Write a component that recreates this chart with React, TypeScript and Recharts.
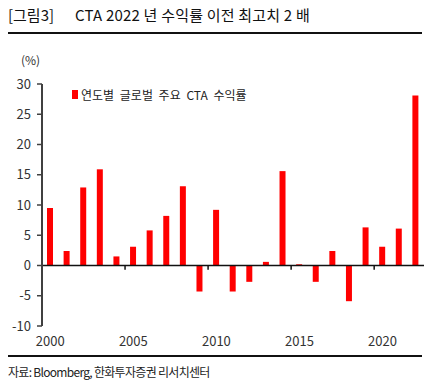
import { BarChart, Bar, XAxis, YAxis, ReferenceLine, Legend } from 'recharts'

const years = [
  2000, 2001, 2002, 2003, 2004, 2005, 2006, 2007, 2008, 2009, 2010, 2011,
  2012, 2013, 2014, 2015, 2016, 2017, 2018, 2019, 2020, 2021, 2022,
]
const returns = [
  9.5, 2.4, 12.9, 15.9, 1.5, 3.1, 5.8, 8.2, 13.1, -4.3, 9.2, -4.3,
  -2.7, 0.6, 15.6, 0.2, -2.7, 2.4, -5.9, 6.3, 3.1, 6.1, 28.1,
]
const yTicks = [-10, -5, 0, 5, 10, 15, 20, 25, 30]
const boundaryTicks = [2005, 2010, 2015, 2020]

const seriesName = '연도별 글로벌 주요 CTA 수익률'
const font = '"Noto Sans CJK KR", "Noto Sans", sans-serif'

const chartData = years.map((y, i) => ({ year: y, value: returns[i] }))

function XTick(props: any) {
  const { x, y, payload } = props
  return (
    <text x={x} y={y + 12} textAnchor="middle" fontSize={13} fill="#333" fontFamily={font}>
      {payload.value}
    </text>
  )
}

function LegendBox() {
  return (
    <div style={{ display: 'flex', alignItems: 'center', fontSize: 12, color: '#222', fontFamily: font }}>
      <span style={{ width: 6, height: 9, background: '#ff0000', marginRight: 3, display: 'inline-block' }} />
      <span style={{ wordSpacing: 3 }}>{seriesName}</span>
    </div>
  )
}

export default function App() {
  return (
    <div style={{ position: 'absolute', left: 0, top: 0, width: 444, height: 388, background: '#fff', fontFamily: font }}>
      <div style={{ position: 'absolute', left: 8, top: 4, fontSize: 15, color: '#111', whiteSpace: 'nowrap' }}>
        <span>[그림3]</span>
        <span style={{ marginLeft: 21, letterSpacing: 0.2 }}>CTA 2022 년 수익률 이전 최고치 2 배</span>
      </div>
      <div style={{ position: 'absolute', left: 8, top: 32, width: 414, height: 2, background: '#111' }} />
      <div style={{ position: 'absolute', left: 21, top: 51, fontSize: 12, color: '#333' }}>(%)</div>

      <BarChart
        width={444}
        height={388}
        data={chartData}
        margin={{ top: 84, right: 20, bottom: 32, left: 0 }}
        style={{ position: 'absolute', left: 0, top: 0 }}
      >
        <YAxis
          domain={[-10, 30]}
          ticks={yTicks}
          interval={0}
          width={42}
          tickSize={5}
          tickMargin={6}
          axisLine={{ stroke: '#404040', strokeWidth: 2 }}
          tickLine={{ stroke: '#404040', strokeWidth: 1.5 }}
          tick={{ fontSize: 13, fill: '#333', fontFamily: font }}
        />
        <XAxis
          dataKey="year"
          type="category"
          height={30}
          interval={4}
          axisLine={false}
          tickLine={false}
          tick={<XTick />}
        />
        <Legend
          layout="horizontal"
          verticalAlign="middle"
          align="center"
          content={<LegendBox />}
          wrapperStyle={{ position: 'absolute', left: 72, top: 86, width: 'auto' }}
        />
        <ReferenceLine y={0} stroke="#111" strokeWidth={1.5} />
        {boundaryTicks.map((t) => (
          <ReferenceLine
            key={t}
            segment={[{ x: t, y: 0 }, { x: t, y: -0.7 }]}
            position="start"
            stroke="#111"
            strokeWidth={1.5}
          />
        ))}
        <Bar dataKey="value" name={seriesName} fill="#ff0000" barSize={6} isAnimationActive={false} />
      </BarChart>

      <div style={{ position: 'absolute', left: 8, top: 355, width: 414, height: 1.5, background: '#111' }} />
      <div style={{ position: 'absolute', left: 8, top: 363, fontSize: 12, color: '#222', letterSpacing: -0.7, whiteSpace: 'nowrap' }}>
        자료: Bloomberg, 한화투자증권 리서치센터
      </div>
    </div>
  )
}
